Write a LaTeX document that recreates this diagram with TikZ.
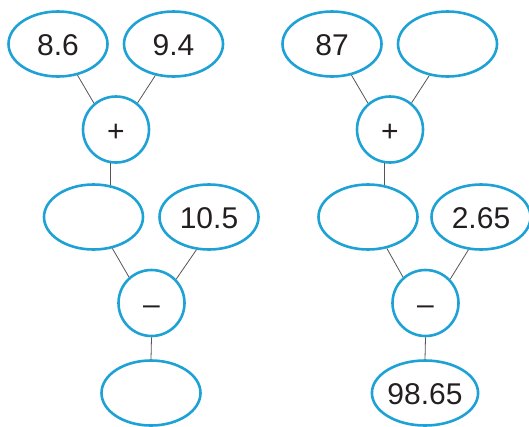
\documentclass[tikz,border=0pt]{standalone}
\usepackage{fontspec}
\setmainfont{Liberation Sans}
\usetikzlibrary{shapes.geometric}
\definecolor{ringblue}{RGB}{30,162,214}
\definecolor{linkgray}{RGB}{85,85,85}
\definecolor{txt}{RGB}{35,31,32}
\begin{document}
\begin{tikzpicture}[x=1pt,y=-1pt,
  oval/.style={ellipse,draw=ringblue,line width=2.6pt,minimum width=99pt,minimum height=65pt,inner sep=0pt,font=\fontsize{30}{30}\selectfont,text=txt,text height=23.5pt,text depth=0pt},
  opcircle/.style={circle,draw=ringblue,line width=2.6pt,minimum size=66pt,inner sep=0pt,font=\fontsize{30}{30}\selectfont,text=txt,text height=23.5pt,text depth=0pt},
  link/.style={draw=linkgray,line width=0.8pt}]
\useasboundingbox (0,0) rectangle (529,426);
% left tree
\node[oval] (a1) at (58,44) {8.6};
\node[oval] (a2) at (173.5,44) {9.4};
\node[opcircle] (ap) at (116,129.5) {+};
\node[oval] (a3) at (93.5,217) {};
\node[oval] (a4) at (209,217) {10.5};
\node[opcircle] (am) at (151.5,303) {–};
\node[oval] (a5) at (151,393) {};
\draw[link] (a1.-58) -- (ap.130);
\draw[link] (a2.240) -- (ap.51);
\draw[link] (ap.-100) -- (ap.-100 |- a3.64);
\draw[link] (a3.-59) -- (am.131);
\draw[link] (a4.249) -- (am.44);
\draw[link] (am.south) -- (a5.north);
% right tree
\node[oval] (b1) at (332,44) {87};
\node[oval] (b2) at (447.5,44) {};
\node[opcircle] (bp) at (390,129.5) {+};
\node[oval] (b3) at (368,217) {};
\node[oval] (b4) at (481,217) {2.65};
\node[opcircle] (bm) at (425.5,303) {–};
\node[oval] (b5) at (425,393) {98.65};
\draw[link] (b1.-58) -- (bp.130);
\draw[link] (b2.240) -- (bp.51);
\draw[link] (bp.-100) -- (bp.-100 |- b3.64);
\draw[link] (b3.-59) -- (bm.131);
\draw[link] (b4.249) -- (bm.44);
\draw[link] (bm.south) -- (b5.north);
\end{tikzpicture}
\end{document}
